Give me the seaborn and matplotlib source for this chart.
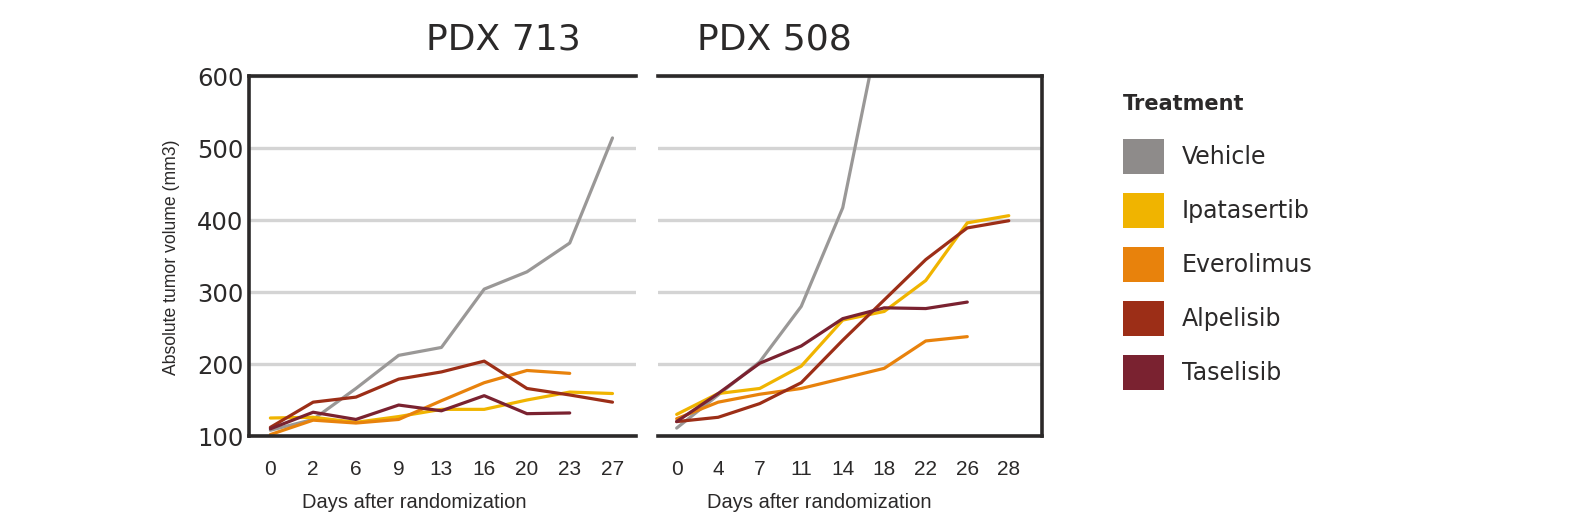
import matplotlib
matplotlib.use("Agg")
import matplotlib.pyplot as plt
from matplotlib.patches import Patch
import seaborn as sns
import pandas as pd

# Measurement days (shown as evenly spaced categories)
days_713 = ["0", "2", "6", "9", "13", "16", "20", "23", "27"]
days_508 = ["0", "4", "7", "11", "14", "18", "22", "26", "28"]

treatments = ["Vehicle", "Ipatasertib", "Everolimus", "Alpelisib", "Taselisib"]
colors = ["#9a9897", "#f0b400", "#e8820c", "#9c2e17", "#7a2230"]
legend_colors = ["#8e8b8a", "#f0b400", "#e8820c", "#9c2e17", "#7a2230"]

# Mean tumour volume (mm3), PDX 713
vehicle_713 = [108, 123, 166, 212, 223, 304, 328, 368, 514]
ipatasertib_713 = [125, 126, 119, 127, 137, 137, 150, 161, 159]
everolimus_713 = [102, 122, 118, 123, 149, 174, 191, 187]
alpelisib_713 = [112, 147, 154, 179, 189, 204, 166, 157, 147]
taselisib_713 = [110, 133, 123, 143, 135, 156, 131, 132]

# Mean tumour volume (mm3), PDX 508
vehicle_508 = [111, 157, 203, 280, 417, 700]
ipatasertib_508 = [130, 159, 166, 197, 261, 273, 316, 396, 406]
everolimus_508 = [124, 147, 158, 166, 180, 194, 232, 238]
alpelisib_508 = [120, 126, 145, 174, 233, 289, 345, 389, 399]
taselisib_508 = [120, 159, 201, 225, 263, 278, 277, 286]

y_ticks = [100, 200, 300, 400, 500, 600]


def long_frame(series):
    rows = []
    for name, values in zip(treatments, series):
        for i, v in enumerate(values):
            rows.append({"pos": i, "volume": v, "Treatment": name})
    return pd.DataFrame(rows)


df_713 = long_frame([vehicle_713, ipatasertib_713, everolimus_713, alpelisib_713, taselisib_713])
df_508 = long_frame([vehicle_508, ipatasertib_508, everolimus_508, alpelisib_508, taselisib_508])

sns.set_style("white")
plt.rcParams["font.family"] = ["DejaVu Sans"]

W, H = 1575, 527
fig = plt.figure(figsize=(W / 100, H / 100), dpi=100)
ax1 = fig.add_axes([249 / W, 1 - 436 / H, (636 - 249) / W, 360 / H])
ax2 = fig.add_axes([658 / W, 1 - 436 / H, (1042 - 658) / W, 360 / H])

spine_color = "#2b2929"
narrow = ["Liberation Sans Narrow", "Liberation Sans", "DejaVu Sans"]
palette = dict(zip(treatments, colors))

for ax, df, days, xlim in [(ax1, df_713, days_713, (-0.5, 8.55)),
                           (ax2, df_508, days_508, (-0.45, 8.8))]:
    sns.lineplot(data=df, x="pos", y="volume", hue="Treatment", hue_order=treatments,
                 palette=palette, linewidth=2.3, sort=False, legend=False, ax=ax, zorder=3)
    ax.set_ylim(100, 600)
    ax.set_xlim(*xlim)
    ax.set_yticks(y_ticks)
    ax.set_xticks(range(len(days)))
    ax.set_xticklabels(days, family=narrow, fontsize=15, color="#2b2929")
    ax.grid(axis="y", color="#d4d4d4", linewidth=2.4, zorder=0)
    ax.grid(axis="x", visible=False)
    ax.set_axisbelow(True)
    ax.set_xlabel("")
    ax.set_ylabel("")
    ax.tick_params(axis="both", length=0)
    ax.tick_params(axis="x", pad=17)
    for s in ax.spines.values():
        s.set_color(spine_color)
        s.set_linewidth(2.6)
        s.set_zorder(4)

ax1.spines["right"].set_visible(False)
ax2.spines["left"].set_visible(False)
ax1.tick_params(axis="y", pad=4, labelsize=17.5, labelcolor="#2b2929")
ax2.tick_params(axis="y", labelleft=False)

# Panel titles
fig.text(503 / W, 1 - 40 / H, "PDX 713", ha="center", va="center", fontsize=26, color="#2b2929")
fig.text(697 / W, 1 - 40 / H, "PDX 508", ha="left", va="center", fontsize=26, color="#2b2929")

# Axis labels
fig.text(172 / W, 1 - 257 / H, "Absolute tumor volume (mm3)", rotation=90, ha="center", va="center",
         family=narrow, fontsize=12.7, color="#2b2929")
for cx in (414, 819):
    fig.text(cx / W, 1 - 503 / H, "Days after randomization", ha="center", va="center",
             family=narrow, fontsize=14.5, color="#2b2929")

# Legend
handles = [Patch(facecolor=c, edgecolor="none", label=t) for t, c in zip(treatments, legend_colors)]
leg = fig.legend(handles=handles, loc="upper left", bbox_to_anchor=(1123 / W, 1 - 94 / H),
                 frameon=False, fontsize=17, title="Treatment", alignment="left",
                 handlelength=1.74, handleheight=1.9, handletextpad=0.76, labelspacing=0.81,
                 borderaxespad=0, borderpad=0)
leg.get_title().set_fontweight("bold")
leg.get_title().set_fontsize(15)
leg.get_title().set_color("#2b2929")
for t in leg.get_texts():
    t.set_color("#2b2929")
leg._legend_box.sep = 18

fig.savefig("out.png", dpi=100)
